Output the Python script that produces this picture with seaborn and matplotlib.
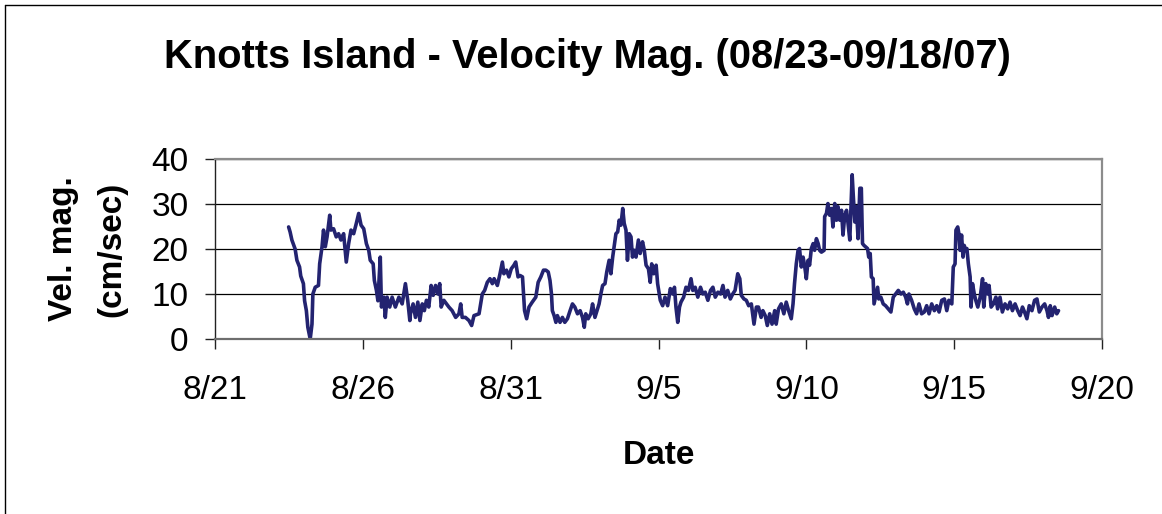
import pandas as pd
import seaborn as sns
import matplotlib
matplotlib.use("Agg")
import matplotlib.pyplot as plt
import matplotlib.dates as mdates
from matplotlib.lines import Line2D
from matplotlib.ticker import FuncFormatter


# --- DATA ---
# time = days after 8/21/07 00:00, value = velocity magnitude (cm/sec)

START = pd.Timestamp("2007-08-21")

# 8/23 - 8/27
days_1 = [2.49, 2.54, 2.60, 2.71, 2.77, 2.86, 2.90, 2.99, 3.03, 3.09,
          3.14, 3.22, 3.28, 3.31, 3.39, 3.50, 3.54, 3.62, 3.67, 3.73,
          3.79, 3.88, 3.92, 4.01, 4.10, 4.18, 4.26, 4.35, 4.44, 4.52,
          4.60, 4.69, 4.78, 4.86, 4.94, 5.03, 5.12, 5.20, 5.25, 5.35,
          5.39, 5.46, 5.51, 5.59, 5.63, 5.71, 5.76, 5.82, 5.91, 5.99,
          6.10, 6.22, 6.33, 6.44, 6.52, 6.59]
vel_1 = [24.9, 23.8, 22.0, 20.0, 17.5, 16.0, 14.0, 12.3, 8.5, 6.3,
         2.6, 0.0, 3.3, 10.0, 11.5, 11.9, 16.7, 20.5, 24.2, 20.5,
         22.7, 27.5, 24.2, 24.5, 22.7, 23.4, 22.0, 23.4, 17.1, 21.2,
         24.2, 23.4, 25.7, 27.9, 25.3, 24.5, 21.2, 19.7, 17.5, 16.7,
         13.0, 10.8, 8.5, 18.2, 7.1, 9.3, 4.8, 9.3, 7.1, 9.3,
         7.1, 9.3, 7.8, 12.3, 8.5, 4.1]

# 8/27 - 9/1
days_2 = [6.61, 6.70, 6.78, 6.86, 6.93, 7.01, 7.08, 7.15, 7.23, 7.31,
          7.38, 7.46, 7.54, 7.60, 7.65, 7.74, 7.83, 7.91, 8.02, 8.14,
          8.25, 8.31, 8.36, 8.47, 8.59, 8.68, 8.76, 8.93, 9.04, 9.12,
          9.21, 9.30, 9.38, 9.44, 9.55, 9.64, 9.72, 9.77, 9.86, 9.94,
          10.02, 10.11, 10.17, 10.25, 10.32, 10.40, 10.47, 10.54, 10.62, 10.73,
          10.85, 10.93]
vel_2 = [5.6, 7.8, 4.8, 8.2, 4.1, 7.8, 6.3, 8.6, 7.1, 11.9,
         9.7, 11.9, 10.0, 12.3, 7.1, 8.6, 7.8, 7.1, 6.3, 4.8,
         5.6, 7.8, 4.8, 4.8, 4.1, 3.0, 5.2, 5.6, 10.0, 10.8,
         12.6, 13.4, 12.3, 13.4, 11.9, 14.5, 17.1, 14.5, 15.3, 13.8,
         15.6, 16.4, 17.1, 13.8, 14.1, 13.8, 6.3, 4.5, 7.1, 8.2,
         9.3, 12.6]

# 9/1 - 9/5
days_3 = [11.02, 11.11, 11.19, 11.27, 11.33, 11.38, 11.41, 11.47, 11.53, 11.58,
          11.67, 11.75, 11.83, 11.92, 12.01, 12.09, 12.17, 12.26, 12.35, 12.43,
          12.49, 12.54, 12.62, 12.71, 12.77, 12.85, 12.94, 12.99, 13.05, 13.11,
          13.19, 13.25, 13.33, 13.39, 13.45, 13.50, 13.56, 13.62, 13.67, 13.73,
          13.79, 13.84, 13.90, 13.95, 14.01, 14.07, 14.12, 14.18, 14.24, 14.32,
          14.38, 14.46, 14.52, 14.58, 14.66, 14.72, 14.77, 14.84, 14.92, 14.97,
          15.06]
vel_3 = [13.8, 15.3, 15.3, 14.9, 13.0, 10.0, 6.3, 5.2, 3.7, 5.2,
         3.7, 4.8, 3.7, 4.5, 6.3, 7.8, 7.1, 5.6, 6.3, 4.8,
         2.6, 5.6, 4.5, 5.6, 7.8, 4.8, 6.7, 7.8, 10.0, 11.9,
         12.3, 14.9, 17.5, 14.5, 18.2, 20.5, 23.4, 23.8, 26.4, 25.3,
         29.0, 25.7, 24.2, 17.5, 23.4, 22.7, 18.2, 19.7, 18.2, 22.0,
         19.0, 21.6, 19.7, 16.4, 15.6, 12.6, 16.7, 14.5, 16.4, 12.3,
         8.6]

# 9/5 - 9/9
days_4 = [15.14, 15.22, 15.31, 15.40, 15.48, 15.54, 15.59, 15.65, 15.71, 15.76,
          15.85, 15.93, 16.01, 16.10, 16.16, 16.24, 16.33, 16.42, 16.50, 16.58,
          16.67, 16.76, 16.84, 16.92, 17.01, 17.10, 17.18, 17.25, 17.34, 17.43,
          17.51, 17.59, 17.68, 17.75, 17.80, 17.89, 17.97, 18.05, 18.14, 18.23,
          18.31, 18.38, 18.47, 18.53, 18.61, 18.68, 18.76, 18.84, 18.93, 18.98,
          19.06, 19.15, 19.24, 19.32, 19.40, 19.49]
vel_4 = [7.4, 9.3, 7.4, 11.2, 10.0, 11.5, 7.1, 3.7, 7.1, 8.2,
         9.3, 11.5, 10.8, 13.4, 10.8, 11.5, 9.3, 11.5, 10.0, 10.4,
         8.6, 10.8, 11.5, 9.3, 10.4, 10.0, 11.9, 9.3, 10.8, 8.9,
         10.0, 10.8, 14.5, 13.4, 9.7, 8.9, 8.6, 7.4, 7.8, 3.3,
         7.1, 7.1, 4.8, 6.3, 5.2, 3.0, 5.6, 3.3, 6.3, 3.3,
         6.7, 7.8, 5.6, 8.2, 6.3, 4.5]

# 9/9 - 9/14
days_5 = [19.55, 19.60, 19.66, 19.72, 19.77, 19.83, 19.89, 19.94, 20.00, 20.06,
          20.11, 20.17, 20.23, 20.28, 20.34, 20.40, 20.45, 20.51, 20.60, 20.62,
          20.68, 20.73, 20.79, 20.85, 20.90, 20.96, 21.02, 21.07, 21.13, 21.19,
          21.24, 21.30, 21.36, 21.41, 21.47, 21.50, 21.55, 21.59, 21.64, 21.69,
          21.75, 21.81, 21.86, 21.90, 21.95, 22.00, 22.07, 22.11, 22.16, 22.20,
          22.26, 22.29, 22.34, 22.41, 22.45, 22.52, 22.60, 22.68, 22.77, 22.86,
          22.94, 23.02, 23.11, 23.20, 23.28, 23.36, 23.42, 23.47, 23.56, 23.65,
          23.73, 23.81, 23.90]
vel_5 = [7.8, 12.3, 16.7, 19.7, 20.1, 16.0, 18.2, 16.4, 13.4, 17.5,
         16.4, 20.1, 21.2, 19.7, 22.3, 21.2, 19.7, 19.3, 19.7, 27.2,
         27.9, 30.1, 27.5, 29.0, 24.9, 30.1, 26.4, 29.4, 26.4, 28.6,
         23.1, 27.5, 28.6, 25.7, 22.0, 27.2, 36.5, 31.6, 26.0, 29.4,
         22.3, 33.5, 33.5, 21.2, 20.8, 20.5, 20.1, 18.2, 19.0, 13.8,
         13.4, 7.8, 9.3, 11.5, 8.9, 9.3, 7.8, 7.4, 6.7, 6.0,
         9.3, 10.0, 10.8, 10.0, 10.4, 9.3, 7.8, 10.0, 8.6, 6.7,
         5.6, 7.8, 5.6]

# 9/14 - 9/18
days_6 = [23.99, 24.07, 24.15, 24.24, 24.33, 24.41, 24.49, 24.58, 24.67, 24.75,
          24.82, 24.92, 24.97, 25.03, 25.06, 25.12, 25.16, 25.20, 25.25, 25.30,
          25.34, 25.39, 25.43, 25.48, 25.54, 25.57, 25.62, 25.68, 25.73, 25.80,
          25.88, 25.96, 26.00, 26.07, 26.14, 26.18, 26.25, 26.33, 26.41, 26.47,
          26.55, 26.63, 26.72, 26.81, 26.89, 26.97, 27.06, 27.15, 27.23, 27.31,
          27.38, 27.46, 27.54, 27.63, 27.72, 27.80, 27.88, 27.97, 28.06, 28.14,
          28.19, 28.25, 28.31, 28.40, 28.47, 28.53]
vel_6 = [6.0, 7.4, 5.6, 7.8, 6.3, 7.4, 6.0, 8.6, 8.9, 6.3,
         8.6, 7.8, 16.0, 16.7, 24.2, 24.9, 23.4, 19.7, 23.1, 18.2,
         20.8, 19.7, 20.1, 16.7, 13.8, 7.1, 12.3, 10.0, 8.6, 7.1,
         9.3, 13.4, 7.1, 12.3, 10.0, 11.9, 7.1, 7.8, 9.3, 6.7,
         9.3, 6.0, 7.8, 6.7, 8.2, 6.3, 7.8, 6.3, 5.2, 7.1,
         6.0, 4.5, 7.4, 6.3, 8.6, 8.9, 6.0, 7.1, 7.8, 6.3,
         4.8, 7.4, 5.2, 7.1, 5.6, 6.3]

Y_TICKS = [0, 10, 20, 30, 40]
X_TICK_DAYS = [0, 5, 10, 15, 20, 25, 30]   # 8/21 ... 9/20

TITLE = "Knotts Island - Velocity Mag. (08/23-09/18/07)"


# --- BUILD FRAME ---
days = days_1 + days_2 + days_3 + days_4 + days_5 + days_6
vel = vel_1 + vel_2 + vel_3 + vel_4 + vel_5 + vel_6
df = pd.DataFrame({"Date": START + pd.to_timedelta(days, unit="D"), "Vel": vel})


# --- PLOT ---
sns.set_theme(style="white")
plt.rcParams["font.family"] = ["Liberation Sans", "DejaVu Sans"]
plt.rcParams["text.color"] = "black"
plt.rcParams["axes.labelcolor"] = "black"

W, H = 1162, 514
fig = plt.figure(figsize=(W / 100, H / 100), dpi=100)
ax = fig.add_axes([215 / W, 1 - 339 / H, (1102 - 215) / W, (339 - 159) / H])

sns.lineplot(data=df, x="Date", y="Vel", ax=ax, color="#232370",
             linewidth=2.6, estimator=None, sort=False)

ax.set_xlim(START, START + pd.Timedelta(days=30))
ax.set_ylim(0, 40)
ax.set_yticks(Y_TICKS)
ax.set_xticks([START + pd.Timedelta(days=d) for d in X_TICK_DAYS])


def md_label(v, pos):
    d = mdates.num2date(v)
    return f"{d.month}/{d.day}"


ax.xaxis.set_major_formatter(FuncFormatter(md_label))

ax.yaxis.grid(True, color="black", linewidth=0.9)
ax.xaxis.grid(False)
ax.set_axisbelow(True)

for side in ("top", "right"):
    ax.spines[side].set_color("#8c8c8c")
    ax.spines[side].set_linewidth(1.6)
ax.spines["bottom"].set_color("#6e6e6e")
ax.spines["bottom"].set_linewidth(1.6)
ax.spines["left"].set_color("#222222")
ax.spines["left"].set_linewidth(1.0)

ax.tick_params(axis="both", bottom=True, left=True, direction="out",
               length=7, width=1, color="#222222", labelsize=24,
               labelcolor="black")
ax.tick_params(axis="x", pad=19)
ax.tick_params(axis="y", pad=12)

ax.set_xlabel("Date", fontsize=24, fontweight="bold")
ax.xaxis.set_label_coords(0.5, -0.56)
ax.set_ylabel("Vel. mag.\n(cm/sec)", fontsize=24, fontweight="bold",
              linespacing=1.73)
ax.yaxis.set_label_coords(-0.0986, 0.5)

fig.text(587 / W, 1 - 68 / H, TITLE, fontsize=28.7, fontweight="bold",
         ha="center", va="baseline")

# chart frame (left and top edges visible)
fig.add_artist(Line2D([4.5 / W, 4.5 / W], [0, 1 - 5 / H],
                      transform=fig.transFigure, color="black", linewidth=1))
fig.add_artist(Line2D([4.5 / W, 1], [1 - 5 / H, 1 - 5 / H],
                      transform=fig.transFigure, color="black", linewidth=1))

fig.savefig("out.png", dpi=100)
